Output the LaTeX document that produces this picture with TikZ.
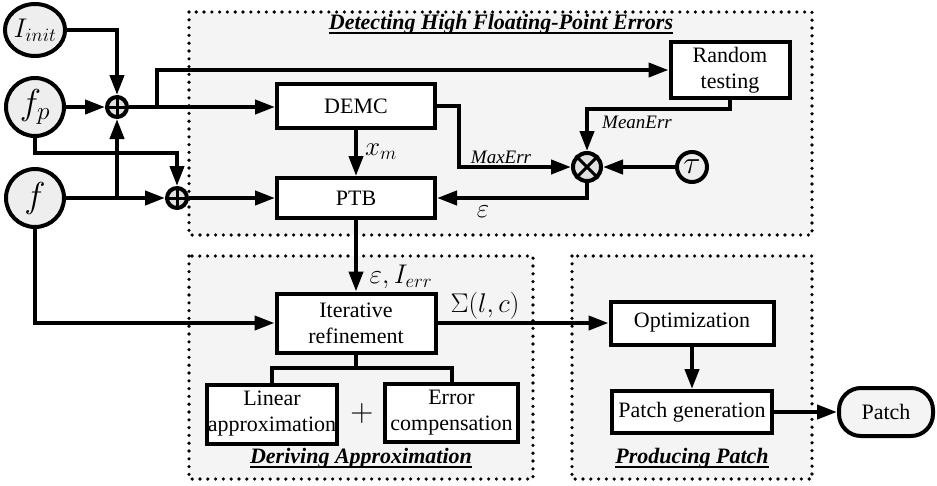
\RequirePackage{fix-cm}
\documentclass[tikz,border=0pt]{standalone}
\usepackage{fontspec}
\setmainfont{Liberation Serif}
\usetikzlibrary{arrows.meta,shapes.geometric,calc}
\definecolor{panel}{RGB}{244,244,244}
\definecolor{discfill}{RGB}{238,238,238}
\definecolor{opfill}{RGB}{224,224,224}
% bold italic heading with a heavy underline
\newcommand{\ulbi}[1]{\setbox0=\hbox{\bfseries\itshape #1}\rlap{\copy0}\rule[-5pt]{\wd0}{2.5pt}}
\tikzset{
  every node/.style={font=\fontsize{22}{26}\selectfont},
  panelbox/.style={fill=panel, draw=black, line width=3.6pt, line cap=round, dash pattern=on 0pt off 7.8pt},
  blk/.style={draw, line width=4pt, fill=white, align=center, inner sep=0pt},
  disc/.style={draw, circle, line width=4pt, fill=discfill, inner sep=0pt, minimum size=58pt, font=\fontsize{36}{40}\selectfont},
  opc/.style={draw, circle, line width=4pt, fill=opfill, inner sep=0pt},
  wire/.style={line width=4pt},
  arr/.style={wire, -{Triangle[length=20pt,width=14pt]}},
  mlbl/.style={font=\fontsize{27}{30}\selectfont, inner sep=0pt},
  ilbl/.style={font=\fontsize{19}{22}\selectfont\itshape, inner sep=0pt},
  ttl/.style={inner sep=0pt},
}
\begin{document}
\begin{tikzpicture}[x=1pt,y=-1pt]
\useasboundingbox (0,0) rectangle (937,485);

% dotted stage panels
\path[panelbox] (189,12) rectangle (812,235);
\path[panelbox] (189,256) rectangle (533,479);
\path[panelbox] (572,256) rectangle (812,479);

% inputs
\node[disc, ellipse, minimum width=60pt, minimum height=52pt, font=\fontsize{27}{30}\selectfont] (iinit) at (35,30) {$I_{init}$};
\node[disc] (fp) at (35,107) {$f_p$};
\node[disc] (f) at (35,198) {$f$};
\node[opc, minimum size=20pt] (op1) at (117,107) {};
\node[opc, minimum size=20pt] (op2) at (177,198) {};
\draw[line width=3pt] (op1.north) -- (op1.south) (op1.west) -- (op1.east);
\draw[line width=3pt] (op2.north) -- (op2.south) (op2.west) -- (op2.east);

% detection stage
\node[blk, minimum width=158pt, minimum height=44pt] (demc) at (356,106) {DEMC};
\node[blk, minimum width=158pt, minimum height=40pt] (ptb) at (356,198) {PTB};
\node[blk, minimum width=119pt, minimum height=56pt] (rand) at (730,70) {Random\\testing};
\node[opc, minimum size=28pt] (ot) at (587,167) {};
\draw[line width=3pt] (ot.north east) -- (ot.south west) (ot.north west) -- (ot.south east);
\node[disc, minimum size=30pt, font=\fontsize{32}{34}\selectfont] (tau) at (692,167) {$\tau$};

% approximation stage
\node[blk, minimum width=159pt, minimum height=59pt] (iter) at (356,323) {Iterative\\refinement};
\node[blk, minimum width=130pt, minimum height=59pt] (lin) at (272,414) {Linear\\approximation};
\node[blk, minimum width=133pt, minimum height=58pt] (errc) at (451.5,413) {Error\\compensation};
\node[mlbl, font=\fontsize{32}{34}\selectfont] (plus) at (362,413) {$+$};

% patch stage
\node[blk, minimum width=163pt, minimum height=43pt] (opt) at (692,323) {Optimization};
\node[blk, minimum width=160pt, minimum height=42pt] (pg) at (692,412) {Patch generation};
\node[blk, minimum width=94pt, minimum height=48pt, rounded corners=22pt, fill=panel] (patch) at (886,412) {Patch};

% headings
\node[ttl] (t1) at (501,24) {\ulbi{Detecting High Floating-Point Errors}};
\node[ttl] (t2) at (361,458) {\ulbi{Deriving Approximation}};
\node[ttl] (t3) at (692,458) {\ulbi{Producing Patch}};

% connectors
\draw[arr] (iinit.east) -| (op1.north);
\draw[arr] (fp) -- (op1);
\coordinate (fpk) at (177,153);
\draw[arr] (fp.south) |- (fpk) -- (op2.north);
\draw[arr] (f) -- (op2);
\coordinate (fk) at (117,198);
\draw[arr] (fk) -- (op1.south);
\draw[arr] (f.south) |- (iter.west);
\draw[arr] (op1) -- (op1 -| demc.west);
\coordinate (rk) at (157,107);
\draw[arr] (rk) |- (rand.west);
\draw[arr] (op2) -- (op2 -| ptb.west);
\draw[arr] (demc) -- (ptb);
\draw[arr] (demc.east) -- ++(22,0) |- (ot.west);
\draw[arr] (rand.south) -- ++(0,9) -| (ot.north);
\draw[arr] (tau) -- (ot);
\draw[arr] (ot.south) |- (ptb.east);
\draw[arr] (ptb) -- (iter);
\draw[arr] (iter) -- (opt);
\draw[arr] (opt) -- (pg);
\draw[arr] (pg) -- (patch);
\coordinate (tj) at (356,368);
\draw[wire] (iter.south) -- (tj);
\draw[wire] (lin.north) |- (tj) -| (errc.north);

% connector labels
\node[mlbl] (lxm) at (381,152) {$x_m$};
\node[ilbl] (lmax) at (501,157) {MaxErr};
\node[ilbl] (lmean) at (637,122) {MeanErr};
\node[mlbl] (leps) at (483,212) {$\varepsilon$};
\node[mlbl] (lei) at (401,277) {$\varepsilon, I_{err}$};
\node[mlbl] (lsig) at (485,306) {$\Sigma(l,c)$};
\end{tikzpicture}
\end{document}
